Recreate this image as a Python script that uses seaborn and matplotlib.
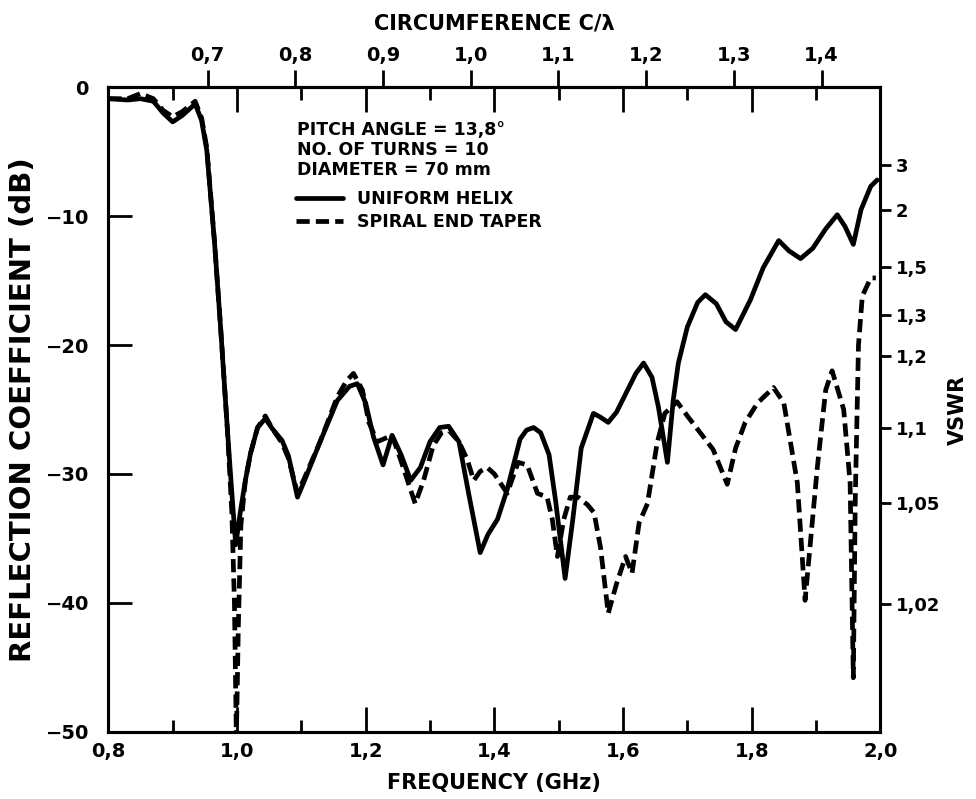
import numpy as np
import pandas as pd
import matplotlib
matplotlib.use("Agg")
import matplotlib.pyplot as plt
import seaborn as sns

# ---------------- data ----------------
FREQ_UNIFORM = [0.800, 0.830, 0.850, 0.870, 0.885, 0.900, 0.915, 0.935, 0.945, 0.953,
                0.965, 0.975, 0.985, 0.992, 0.998, 1.005, 1.013, 1.021, 1.032, 1.044,
                1.055, 1.070, 1.080, 1.094, 1.105, 1.130, 1.156, 1.175, 1.187, 1.200,
                1.212, 1.227, 1.241, 1.255, 1.270, 1.285, 1.300, 1.315, 1.329, 1.345,
                1.360, 1.378, 1.390, 1.405, 1.420, 1.440, 1.450, 1.461, 1.472, 1.485,
                1.495, 1.510, 1.522, 1.535, 1.554, 1.565, 1.577, 1.590, 1.605, 1.620,
                1.632, 1.645, 1.655, 1.669, 1.678, 1.686, 1.700, 1.716, 1.728, 1.745,
                1.760, 1.775, 1.798, 1.818, 1.842, 1.858, 1.876, 1.895, 1.915, 1.933,
                1.945, 1.958, 1.970, 1.985, 1.995]
DB_UNIFORM = [-0.9, -1.0, -0.9, -1.1, -2.0, -2.7, -2.2, -1.3, -2.6, -4.9,
              -12.0, -19.0, -26.5, -31.5, -35.5, -33.0, -30.5, -28.4, -26.4, -25.7,
              -26.5, -27.4, -28.6, -31.8, -30.5, -27.4, -24.3, -23.2, -23.0, -24.5,
              -27.1, -29.3, -27.0, -28.5, -30.5, -29.5, -27.5, -26.4, -26.3, -27.5,
              -31.5, -36.1, -34.7, -33.5, -31.2, -27.3, -26.6, -26.4, -26.8, -28.5,
              -32.0, -38.1, -33.5, -28.0, -25.3, -25.6, -26.0, -25.2, -23.7, -22.2,
              -21.4, -22.5, -24.8, -29.1, -24.3, -21.4, -18.6, -16.7, -16.1, -16.8,
              -18.2, -18.8, -16.5, -14.0, -11.9, -12.7, -13.3, -12.5, -11.0, -9.9,
              -10.8, -12.2, -9.5, -7.7, -7.2]

FREQ_TAPER = [0.800, 0.830, 0.850, 0.870, 0.885, 0.900, 0.915, 0.935, 0.945, 0.953,
              0.965, 0.975, 0.985, 0.992, 0.996, 0.999, 1.002, 1.006, 1.013, 1.021,
              1.032, 1.044, 1.055, 1.070, 1.080, 1.094, 1.105, 1.130, 1.156, 1.170,
              1.181, 1.195, 1.205, 1.218, 1.232, 1.241, 1.255, 1.277, 1.290, 1.305,
              1.318, 1.329, 1.345, 1.358, 1.368, 1.378, 1.389, 1.400, 1.420, 1.437,
              1.451, 1.467, 1.482, 1.490, 1.498, 1.508, 1.518, 1.530, 1.545, 1.555,
              1.565, 1.577, 1.590, 1.604, 1.614, 1.625, 1.638, 1.653, 1.665, 1.684,
              1.700, 1.720, 1.740, 1.762, 1.775, 1.790, 1.809, 1.834, 1.850, 1.871,
              1.883, 1.902, 1.915, 1.925, 1.943, 1.953, 1.958, 1.961, 1.966, 1.972,
              1.985, 1.993]
DB_TAPER = [-0.9, -0.9, -0.5, -0.9, -1.8, -2.3, -1.9, -1.1, -2.4, -4.7,
            -12.0, -19.0, -26.5, -33.0, -40.0, -50.5, -42.0, -34.0, -30.5, -28.4,
            -26.4, -25.5, -26.5, -27.6, -28.8, -31.5, -30.3, -27.4, -24.0, -22.8,
            -22.2, -23.5, -26.0, -27.5, -27.2, -27.0, -29.0, -32.3, -30.5, -27.8,
            -26.8, -26.6, -27.5, -28.9, -30.5, -29.8, -29.5, -30.0, -31.5, -29.1,
            -29.3, -31.5, -31.8, -33.5, -36.4, -33.5, -31.8, -31.8, -32.4, -33.0,
            -35.7, -40.8, -38.5, -36.4, -37.7, -33.8, -32.3, -27.6, -25.3, -24.4,
            -25.5, -26.8, -28.1, -30.8, -28.0, -26.0, -24.5, -23.3, -24.5, -30.7,
            -39.8, -29.5, -23.5, -22.0, -25.0, -30.7, -45.8, -32.0, -20.0, -16.2,
            -14.8, -14.8]

SERIES_NAMES = ["UNIFORM HELIX", "SPIRAL END TAPER"]

X_TICKS = [0.8, 1.0, 1.2, 1.4, 1.6, 1.8, 2.0]
X_TICK_LABELS = ["0,8", "1,0", "1,2", "1,4", "1,6", "1,8", "2,0"]
X_MINOR_TICKS = [0.9, 1.1, 1.3, 1.5, 1.7, 1.9]
Y_TICKS = [0, -10, -20, -30, -40, -50]
Y_TICK_LABELS = ["0", "\u221210", "\u221220", "\u221230", "\u221240", "\u221250"]
C_TICKS = [0.7, 0.8, 0.9, 1.0, 1.1, 1.2, 1.3, 1.4]
C_TICK_LABELS = ["0,7", "0,8", "0,9", "1,0", "1,1", "1,2", "1,3", "1,4"]
VSWR_TICKS = [3, 2, 1.5, 1.3, 1.2, 1.1, 1.05, 1.02]
VSWR_TICK_LABELS = ["3", "2", "1,5", "1,3", "1,2", "1,1", "1,05", "1,02"]

DIAMETER_M = 0.070
ANNOTATION = ["PITCH ANGLE = 13,8\u00b0", "NO. OF TURNS = 10", "DIAMETER = 70 mm"]

# ---------------- figure ----------------
sns.set_theme(style="ticks")
plt.rcParams["font.family"] = ["DejaVu Sans"]
plt.rcParams["font.weight"] = "bold"
plt.rcParams["axes.labelweight"] = "bold"
plt.rcParams["text.color"] = "black"
plt.rcParams["axes.labelcolor"] = "black"
plt.rcParams["xtick.color"] = "black"
plt.rcParams["ytick.color"] = "black"
plt.rcParams["axes.edgecolor"] = "black"

fig, ax = plt.subplots(figsize=(9.76, 7.99), dpi=100)
fig.subplots_adjust(left=0.111, right=0.902, top=0.891, bottom=0.084)

df_u = pd.DataFrame({"f": FREQ_UNIFORM, "db": DB_UNIFORM})
df_t = pd.DataFrame({"f": FREQ_TAPER, "db": DB_TAPER})

sns.lineplot(data=df_u, x="f", y="db", ax=ax, color="black", lw=3.4,
             estimator=None, sort=False, label=SERIES_NAMES[0])
sns.lineplot(data=df_t, x="f", y="db", ax=ax, color="black", lw=3.4,
             estimator=None, sort=False, linestyle=(0, (2.8, 1.3)),
             label=SERIES_NAMES[1])
for ln in ax.get_lines():
    ln.set_solid_joinstyle("round")
    ln.set_dash_joinstyle("round")

ax.set_xlim(0.8, 2.0)
ax.set_ylim(-50, 0)
ax.set_xticks(X_TICKS, X_TICK_LABELS)
ax.set_xticks(X_MINOR_TICKS, minor=True)
ax.set_yticks(Y_TICKS, Y_TICK_LABELS)
ax.tick_params(axis="both", which="both", direction="in", top=True, right=True,
               width=2.0, color="black", labelcolor="black", labelsize=14)
ax.tick_params(axis="x", which="major", length=18, pad=7)
ax.tick_params(axis="x", which="minor", length=9)
ax.tick_params(axis="y", which="major", length=17, pad=14)
ax.set_xlabel("FREQUENCY (GHz)", fontsize=15, labelpad=9)
ax.set_ylabel("REFLECTION COEFFICIENT (dB)", fontsize=21, labelpad=6)
for s in ax.spines.values():
    s.set_linewidth(2.2)
    s.set_color("black")

# top axis: circumference in wavelengths
k = np.pi * DIAMETER_M / 0.299792458  # C/lambda per GHz
secx = ax.secondary_xaxis("top", functions=(lambda f: f * k, lambda c: c / k))
secx.set_xticks(C_TICKS, C_TICK_LABELS)
secx.tick_params(direction="out", length=12, width=2.0, pad=4, labelsize=14,
                 color="black", labelcolor="black")
secx.set_xlabel("CIRCUMFERENCE C/\u03bb", fontsize=15, labelpad=12)
secx.spines["top"].set_linewidth(2.2)

# right axis: VSWR
ax2 = ax.twinx()
ax2.set_ylim(ax.get_ylim())
vswr = np.array(VSWR_TICKS, dtype=float)
vswr_pos = 20 * np.log10((vswr - 1) / (vswr + 1))
ax2.set_yticks(vswr_pos, VSWR_TICK_LABELS)
ax2.tick_params(axis="y", direction="out", length=8, width=2.0, pad=3, labelsize=13,
                color="black", labelcolor="black")
ax2.set_ylabel("VSWR", fontsize=15, labelpad=6)
for s in ax2.spines.values():
    s.set_linewidth(2.2)
    s.set_color("black")

# annotation + legend
for i, line in enumerate(ANNOTATION):
    ax.text(0.245, 0.933 - i * 0.031, line, transform=ax.transAxes,
            fontsize=12.5, va="center", ha="left", color="black")
leg = ax.legend(loc="upper left", bbox_to_anchor=(0.243, 0.840), frameon=False,
                fontsize=12.5, handlelength=2.7, handletextpad=0.8, labelspacing=0.25,
                borderpad=0, borderaxespad=0)
for t in leg.get_texts():
    t.set_color("black")

fig.savefig("out.png", dpi=100)
